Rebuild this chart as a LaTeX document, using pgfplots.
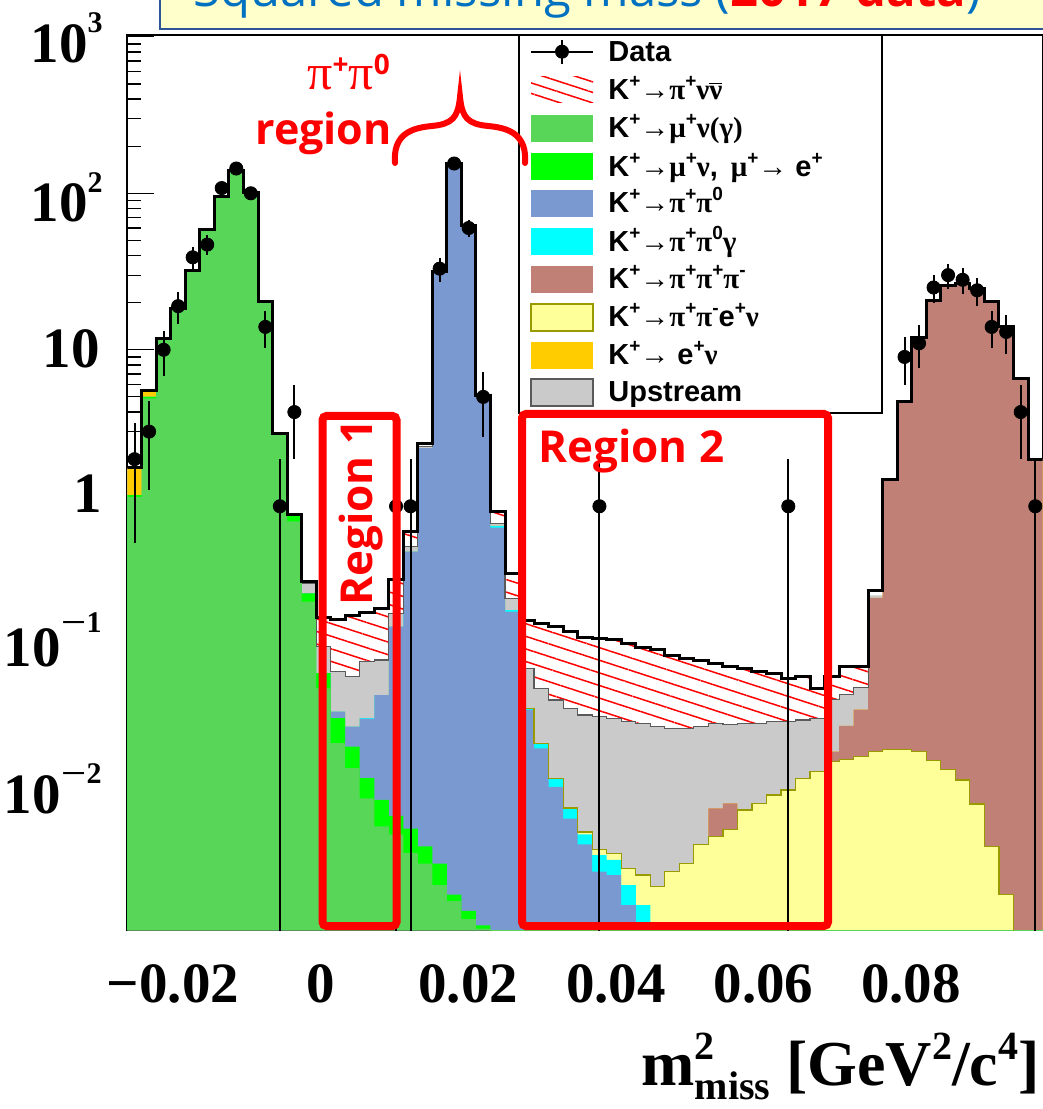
\documentclass[border=0pt]{standalone}
\usepackage{fontspec}
\usepackage{graphicx}
\usepackage{pgfplots}
\pgfplotsset{compat=1.18}
\usepackage{pgfplotstable}
\usetikzlibrary{patterns.meta}
\setmainfont{Liberation Serif}
\newfontfamily\tnr{Liberation Serif}
\newfontfamily\lsans{Liberation Sans}
\newfontfamily\osans{Open Sans}
\newfontfamily\grk{Liberation Serif}

\definecolor{cMu}{RGB}{88,214,88}
\definecolor{cMuE}{RGB}{0,255,0}
\definecolor{cPiPi}{RGB}{122,153,209}
\definecolor{cCyan}{RGB}{0,255,255}
\definecolor{cBrown}{RGB}{192,128,118}
\definecolor{cYellow}{RGB}{255,255,153}
\definecolor{cYellowLine}{RGB}{153,153,0}
\definecolor{cOrange}{RGB}{255,204,0}
\definecolor{cGray}{RGB}{202,202,202}
\definecolor{cGrayLine}{RGB}{90,90,90}
\definecolor{titleblue}{RGB}{0,112,192}
\definecolor{titlefill}{RGB}{255,255,204}
\definecolor{titleborder}{RGB}{47,85,151}

\newcommand{\Sup}[1]{\raisebox{0.42em}{\fontsize{9.5}{10}\selectfont #1}}

% cumulative stack tops: c1 mu nu, c2 +mu nu(mu->e), c3 +pi pi0, c4 +pi pi0 gamma,
% c5 +pi pi e nu, c6 +pi pi pi, c7 +e nu, c8 +upstream, c9 +pi nu nu (total)
\pgfplotstableread{
n c1 c2 c3 c4 c5 c6 c7 c8 c9
0 1.15 1.18 1.18 1.18 1.18 1.18 1.75 1.75 1.76
1 4.9 5.0 5.0 5.0 5.0 5.0 5.45 5.45 5.5
2 11.7 11.8 11.8 11.8 11.8 11.8 11.8 11.8 11.8
3 18.3 18.4 18.4 18.4 18.4 18.4 18.4 18.4 18.4
4 32.2 32.3 32.3 32.3 32.3 32.3 32.3 32.3 32.3
5 58.8 58.9 58.9 58.9 58.9 58.9 58.9 58.9 58.9
6 94.9 95 95 95 95 95 95 95 95
7 138.9 139 139 139 139 139 139 139 139
8 100.9 101 101 101 101 101 101 101 101
9 20.2 20.3 20.3 20.3 20.3 20.3 20.3 20.3 20.3
10 2.85 2.93 2.93 2.93 2.93 2.93 2.93 2.93 2.93
11 0.80 0.87 0.87 0.87 0.87 0.87 0.87 0.87 0.88
12 0.246 0.278 0.278 0.278 0.278 0.278 0.278 0.322 0.33
13 0.0687 0.0857 0.0857 0.0857 0.0857 0.0857 0.0857 0.127 0.195
14 0.0306 0.0442 0.0487 0.0487 0.0487 0.0487 0.0487 0.0877 0.19
15 0.0212 0.0291 0.0391 0.0391 0.0391 0.0391 0.0391 0.0815 0.20
16 0.0136 0.0183 0.0440 0.0442 0.0442 0.0442 0.0442 0.1016 0.209
17 0.0090 0.0133 0.0622 0.0622 0.0622 0.0622 0.0622 0.104 0.223
18 0.0080 0.0105 0.170 0.170 0.170 0.170 0.170 0.207 0.338
19 0.0061 0.0087 0.513 0.513 0.513 0.513 0.513 0.552 0.69
20 0.0052 0.0067 2.35 2.35 2.35 2.35 2.35 2.42 2.53
21 0.0038 0.0052 31.0 31.0 31.0 31.0 31.0 31.2 31.5
22 0.0030 0.0033 154 154 154 154 154 155 155.6
23 0.0023 0.0026 62.0 62.0 62.0 62.0 62.0 62.3 62.7
24 0.0020 0.0021 5.00 5.00 5.00 5.00 5.00 5.08 5.14
25 0.0010 0.0010 0.73 0.75 0.75 0.75 0.75 0.78 0.925
26 0.0001 0.0001 0.212 0.217 0.217 0.217 0.217 0.258 0.373
27 0.0001 0.0001 0.050 0.0512 0.0512 0.0512 0.0512 0.0922 0.186
28 0.0001 0.0001 0.0284 0.0306 0.0306 0.0306 0.0306 0.0687 0.179
29 0.0001 0.0001 0.0161 0.0183 0.0183 0.0183 0.0183 0.0578 0.170
30 0.0001 0.0001 0.0101 0.0118 0.0118 0.0118 0.0118 0.0512 0.158
31 0.0001 0.0001 0.0069 0.0080 0.0083 0.0083 0.0083 0.0463 0.146
32 0.0001 0.0001 0.00462 0.0059 0.00637 0.00637 0.00637 0.0453 0.143
33 0.0001 0.0001 0.0044 0.0055 0.00607 0.00607 0.00607 0.0442 0.140
34 0.0001 0.0001 0.00283 0.0038 0.00487 0.00487 0.00487 0.0421 0.133
35 0.0001 0.0001 0.00217 0.00283 0.0044 0.0044 0.0044 0.0410 0.1256
36 0.0001 0.0001 0.001 0.001 0.0037 0.0037 0.0037 0.0391 0.121
37 0.0001 0.0001 0.0001 0.0001 0.00462 0.00462 0.00462 0.0381 0.112
38 0.0001 0.0001 0.0001 0.0001 0.00524 0.00524 0.00524 0.0381 0.107
39 0.0001 0.0001 0.0001 0.0001 0.00686 0.00686 0.00686 0.0391 0.104
40 0.0001 0.0001 0.0001 0.0001 0.00775 0.01175 0.01175 0.0410 0.0993
41 0.0001 0.0001 0.0001 0.0001 0.00855 0.01265 0.01265 0.0401 0.0945
42 0.0001 0.0001 0.0001 0.0001 0.01146 0.01146 0.01146 0.0410 0.0922
43 0.0001 0.0001 0.0001 0.0001 0.01265 0.01265 0.01265 0.0410 0.0877
44 0.0001 0.0001 0.0001 0.0001 0.0143 0.0143 0.0143 0.0421 0.0857
45 0.0001 0.0001 0.0001 0.0001 0.0154 0.0154 0.0154 0.0421 0.0796
46 0.0001 0.0001 0.0001 0.0001 0.0183 0.0183 0.0183 0.0431 0.0815
47 0.0001 0.0001 0.0001 0.0001 0.0201 0.0201 0.0201 0.0442 0.0687
48 0.0001 0.0001 0.0001 0.0001 0.0233 0.0270 0.0270 0.0580 0.0815
49 0.0001 0.0001 0.0001 0.0001 0.0242 0.0395 0.0395 0.0630 0.0945
50 0.0001 0.0001 0.0001 0.0001 0.0253 0.0501 0.0501 0.0692 0.095
51 0.0001 0.0001 0.0001 0.0001 0.0271 0.26 0.26 0.27 0.29
52 0.0001 0.0001 0.0001 0.0001 0.0280 1.45 1.45 1.46 1.48
53 0.0001 0.0001 0.0001 0.0001 0.0280 4.7 4.7 4.7 4.7
54 0.0001 0.0001 0.0001 0.0001 0.0271 11.9 11.9 11.9 11.9
55 0.0001 0.0001 0.0001 0.0001 0.0238 20.6 20.6 20.6 20.6
56 0.0001 0.0001 0.0001 0.0001 0.0209 25.6 25.6 25.6 25.6
57 0.0001 0.0001 0.0001 0.0001 0.0178 26.7 26.7 26.7 26.7
58 0.0001 0.0001 0.0001 0.0001 0.0125 24.6 24.6 24.6 24.6
59 0.0001 0.0001 0.0001 0.0001 0.00673 20.2 20.2 20.2 20.2
60 0.0001 0.0001 0.0001 0.0001 0.0033 14.0 14.0 14.0 14.0
61 0.0001 0.0001 0.0001 0.0001 0.0001 6.6 6.6 6.6 6.6
62 0.0001 0.0001 0.0001 0.0001 0.0001 2.0 2.0 2.0 2.0
63 0.0001 0.0001 0.0001 0.0001 0.0001 2.0 2.0 2.0 2.0
}\cum

\pgfplotstableread{
n y ep em
0 2 1.414 1.414
1 3 1.732 1.732
2 10 3.162 3.162
3 19 4.359 4.359
4 39 6.245 6.245
5 47 6.856 6.856
6 108 10.39 10.39
7 144 12 12
8 100 10 10
9 14 3.742 3.742
10 1 1 0.9999
11 4 2 2
18 1 1 0.9999
19 1 1 0.9999
21 33 5.745 5.745
22 155 12.45 12.45
23 60 7.746 7.746
24 5 2.236 2.236
32 1 1 0.9999
45 1 1 0.9999
53 9 3 3
54 11 3.317 3.317
55 25 5 5
56 30 5.477 5.477
57 28 5.292 5.292
58 24 4.899 4.899
59 14 3.742 3.742
60 13 3.606 3.606
61 4 2 2
62 1 1 0.9999
}\dat

\begin{document}
\begin{tikzpicture}
\begin{axis}[
  at={(0,0)}, anchor=south west,
  width=457.6pt, height=447.5pt, scale only axis,
  xmin=-0.0262, xmax=0.0978,
  ymode=log, ymin=0.00196, ymax=1027,
  log origin y=infty,
  xtick={-0.02,0,0.02,0.04,0.06,0.08},
  minor xtick={-0.025,-0.015,-0.01,-0.005,0.005,0.01,0.015,0.025,0.03,0.035,0.045,0.05,0.055,0.065,0.07,0.075,0.085,0.09,0.095},
  ytick={0.01,0.1,1,10,100,1000},
  xticklabels={}, yticklabels={},
  scaled x ticks=false, scaled y ticks=false,
  tick pos=left,
  major tick length=13.5pt, minor tick length=7pt,
  tick style={black, line width=0.6pt},
  axis line style={line width=1pt},
  clip=true,
]
% hatched signal layer (top of stack)
\addplot[fill=white, draw=none, const plot, forget plot] table[x expr={-0.0262+\thisrow{n}*0.0019683}, y=c9] {\cum} \closedcycle;
\addplot[pattern={Lines[angle=-18,distance=6pt,line width=0.75pt]}, pattern color=red, draw=none, const plot, forget plot] table[x expr={-0.0262+\thisrow{n}*0.0019683}, y=c9] {\cum} \closedcycle;
% upstream
\addplot[fill=cGray, draw=none, const plot, forget plot] table[x expr={-0.0262+\thisrow{n}*0.0019683}, y=c8] {\cum} \closedcycle;
% K -> e nu
\addplot[fill=cOrange, draw=none, const plot, forget plot] table[x expr={-0.0262+\thisrow{n}*0.0019683}, y=c7] {\cum} \closedcycle;
% K -> pi pi pi
\addplot[fill=cBrown, draw=none, const plot, forget plot] table[x expr={-0.0262+\thisrow{n}*0.0019683}, y=c6] {\cum} \closedcycle;
% K -> pi pi e nu
\addplot[fill=cYellow, draw=none, const plot, forget plot] table[x expr={-0.0262+\thisrow{n}*0.0019683}, y=c5] {\cum} \closedcycle;
% K -> pi pi0 gamma
\addplot[fill=cCyan, draw=none, const plot, forget plot] table[x expr={-0.0262+\thisrow{n}*0.0019683}, y=c4] {\cum} \closedcycle;
% K -> pi pi0
\addplot[fill=cPiPi, draw=none, const plot, forget plot] table[x expr={-0.0262+\thisrow{n}*0.0019683}, y=c3] {\cum} \closedcycle;
% K -> mu nu, mu -> e
\addplot[fill=cMuE, draw=none, const plot, forget plot] table[x expr={-0.0262+\thisrow{n}*0.0019683}, y=c2] {\cum} \closedcycle;
% K -> mu nu (gamma)
\addplot[fill=cMu, draw=none, const plot, forget plot] table[x expr={-0.0262+\thisrow{n}*0.0019683}, y=c1] {\cum} \closedcycle;
% outlines of upstream and pi pi e nu
\addplot[cGrayLine, line width=0.6pt, const plot, restrict x to domain=-0.0030:0.0745, forget plot] table[x expr={-0.0262+\thisrow{n}*0.0019683}, y=c8] {\cum};
\addplot[cYellowLine, line width=0.6pt, const plot, restrict x to domain=0.0265:0.1, forget plot] table[x expr={-0.0262+\thisrow{n}*0.0019683}, y=c5] {\cum};
% total
\addplot[black, line width=1.5pt, const plot, forget plot] table[x expr={-0.0262+\thisrow{n}*0.0019683}, y=c9] {\cum};
% data
\addplot[black, only marks, mark=*, mark size=3.3pt,
  error bars/.cd, y dir=both, y explicit, error mark=none,
  error bar style={line width=1pt, black}]
  table[x expr={-0.0262+(\thisrow{n}+0.5)*0.0019683}, y=y, y error plus=ep, y error minus=em] {\dat};
\end{axis}

\begin{scope}[shift={(-63.65pt,465pt)}, x=0.5pt, y=-0.5pt]
% title box
\draw[fill=titlefill, draw=titleborder, line width=1.2pt] (160,-60) rectangle (1100,29);
\node[anchor=base west, inner sep=0, text=titleblue, font=\osans\fontsize{24.5}{28}\selectfont] at (193,7) {Squared missing mass (\textcolor{red}{\bfseries 2017 data})};

% y tick labels
\begin{scope}[every node/.style={anchor=base east, inner sep=0, font=\tnr\bfseries\fontsize{28.5}{30}\selectfont}]
\node at (103,63) {10\raisebox{15pt}{\fontsize{15}{16}\selectfont 3}};
\node at (103,222) {10\raisebox{14.5pt}{\fontsize{15}{16}\selectfont 2}};
\node at (100,368) {10};
\node at (102,513) {1};
\node at (102,667) {10\raisebox{17pt}{\fontsize{15}{16}\selectfont \scalebox{1.5}[1]{−}1}};
\node at (102,813) {10\raisebox{15pt}{\fontsize{15}{16}\selectfont \scalebox{1.5}[1]{−}2}};
\end{scope}
% x tick labels
\begin{scope}[every node/.style={anchor=base, inner sep=0, font=\tnr\bfseries\fontsize{28.5}{30}\selectfont}]
\node at (173.1,1002) {−0.02};
\node at (320.7,1002) {0};
\node at (468.3,1002) {0.02};
\node at (615.9,1002) {0.04};
\node at (763.5,1002) {0.06};
\node at (911.1,1002) {0.08};
\end{scope}
% x axis title
\node[anchor=base east, inner sep=0, font=\tnr\bfseries\fontsize{32}{36}\selectfont] at (1040,1085)
 {m\rlap{\raisebox{13pt}{\fontsize{20}{22}\selectfont 2}}\raisebox{-7pt}{\fontsize{20}{22}\selectfont miss} [GeV\raisebox{13pt}{\fontsize{20}{22}\selectfont 2}/c\raisebox{13pt}{\fontsize{20}{22}\selectfont 4}]};

% legend
\draw[black, line width=0.8pt, fill=white] (519,35) rectangle (882,413);
\draw[black, line width=1pt] (531,51.7) -- (593,51.7);
\draw[black, line width=1pt] (562,40) -- (562,64);
\fill[black] (562,51.7) circle (7);
\fill[white] (531,77) rectangle (593,103);
\fill[pattern={Lines[angle=-18,distance=5pt,line width=0.75pt]}, pattern color=red] (531,77) rectangle (593,103);
\fill[cMu] (531,115) rectangle (593,142);
\fill[cMuE] (531,153) rectangle (593,180);
\fill[cPiPi] (531,190) rectangle (593,217);
\fill[cCyan] (531,228) rectangle (593,255);
\fill[cBrown] (531,266) rectangle (593,293);
\draw[fill=cYellow, draw=cYellowLine, line width=1pt] (531,304) rectangle (593,331);
\fill[cOrange] (531,342) rectangle (593,369);
\draw[fill=cGray, draw=cGrayLine, line width=1pt] (531,379) rectangle (593,406);
\begin{scope}[every node/.style={anchor=base west, inner sep=0, font=\lsans\bfseries\fontsize{14.5}{16}\selectfont}]
\node at (608,62) {Data};
\node at (608,100) {K\Sup{+}{\grk →π}\Sup{+}{\grk ν}$\overline{\hbox{\grk ν}}$};
\node at (608,138) {K\Sup{+}{\grk →μ}\Sup{+}{\grk ν(γ)}};
\node at (608,177) {K\Sup{+}{\grk →μ}\Sup{+}{\grk ν}, \,{\grk μ}\Sup{+}{\grk →} e\Sup{+}};
\node at (608,213) {K\Sup{+}{\grk →π}\Sup{+}{\grk π}\Sup{0}};
\node at (608,252) {K\Sup{+}{\grk →π}\Sup{+}{\grk π}\Sup{0}{\grk γ}};
\node at (608,289) {K\Sup{+}{\grk →π}\Sup{+}{\grk π}\Sup{+}{\grk π}\Sup{-}};
\node at (608,327) {K\Sup{+}{\grk →π}\Sup{+}{\grk π}\Sup{-}e\Sup{+}{\grk ν}};
\node at (608,365) {K\Sup{+}{\grk →} e\Sup{+}{\grk ν}};
\node at (608,402) {Upstream};
\end{scope}

% annotations
\draw[red, line width=4pt, rounded corners=2pt] (322.5,416) rectangle (396.5,926);
\draw[red, line width=4pt, rounded corners=2pt] (522,414) rectangle (828,926);
\node[rotate=90, anchor=base west, inner sep=0, text=red, font=\osans\bfseries\fontsize{22}{26}\selectfont] at (372,606) {Region 1};
\node[anchor=base west, inner sep=0, text=red, font=\osans\bfseries\fontsize{22}{26}\selectfont] at (538,463) {Region 2};
\node[anchor=base west, inner sep=0, text=red, font=\osans\bfseries\fontsize{21.5}{26}\selectfont] at (255,145) {region};
\node[anchor=base west, inner sep=0, text=red] at (307,90) {\grk\fontsize{25}{30}\selectfont π\raisebox{7.5pt}{\osans\bfseries\fontsize{14}{16}\selectfont +}π\raisebox{7.5pt}{\osans\bfseries\fontsize{14}{16}\selectfont 0}};
\draw[red, line width=3pt, line cap=round] (395,163) .. controls (393,135) and (410,128) .. (432,126) .. controls (452,124) and (458,118) .. (460,97) .. controls (462,118) and (468,124) .. (488,126) .. controls (510,128) and (527,135) .. (525,163);

\pgfresetboundingbox
\useasboundingbox (0,0) rectangle (1043,1109);
\end{scope}
\end{tikzpicture}
\end{document}
